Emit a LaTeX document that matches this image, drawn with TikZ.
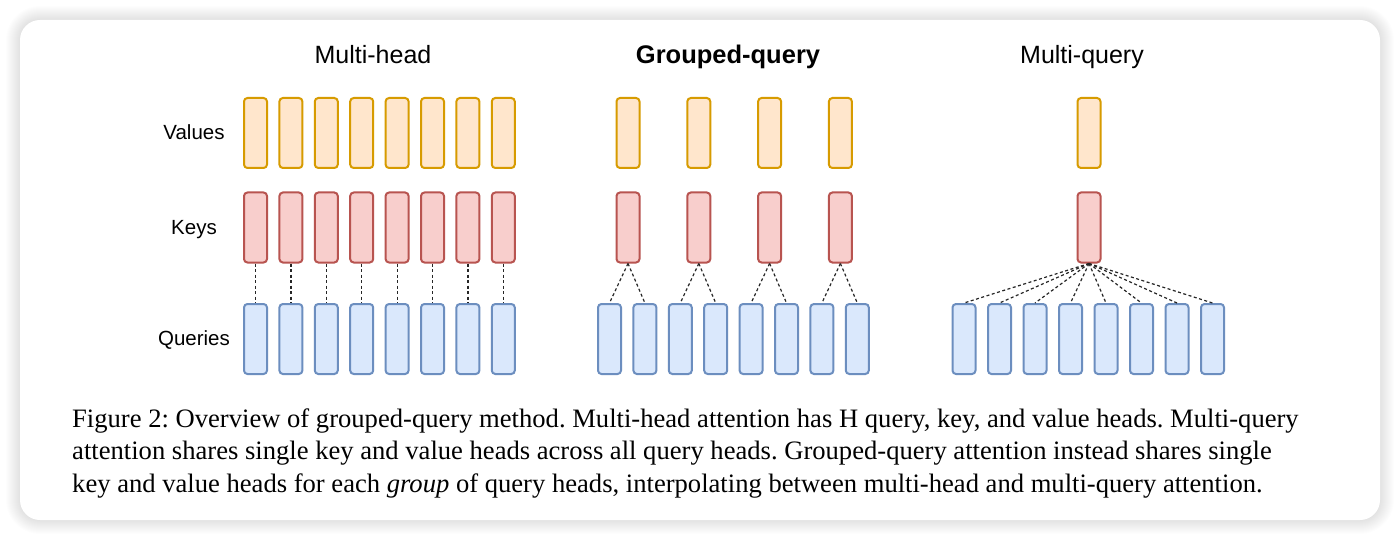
\documentclass[tikz,border=0pt]{standalone}
\usepackage{fontspec}
\setmainfont{Liberation Sans}
\newfontfamily\capfont{Liberation Serif}
\definecolor{valfill}{HTML}{FFE6CC}
\definecolor{valdraw}{HTML}{D79B00}
\definecolor{keyfill}{HTML}{F8CECC}
\definecolor{keydraw}{HTML}{B85450}
\definecolor{qfill}{HTML}{DAE8FC}
\definecolor{qdraw}{HTML}{6C8EBF}
\tikzset{
  headbox/.style={rectangle, rounded corners=3.5pt, minimum width=23pt, minimum height=70pt, inner sep=0pt, line width=2pt},
  valbox/.style={headbox, fill=valfill, draw=valdraw},
  keybox/.style={headbox, fill=keyfill, draw=keydraw},
  qbox/.style={headbox, fill=qfill, draw=qdraw},
  link/.style={draw=black!85, line width=1.2pt, dash pattern=on 3pt off 2.5pt},
  rowlabel/.style={font=\fontsize{20.5}{24}\selectfont, anchor=base, inner sep=0pt},
  title/.style={font=\fontsize{25}{30}\selectfont, anchor=base, inner sep=0pt},
  capline/.style={font=\capfont\fontsize{26.6}{33}\selectfont\frenchspacing, anchor=base west, inner sep=0pt}
}
\begin{document}
\begin{tikzpicture}[x=1pt,y=-1pt]
\useasboundingbox (0,0) rectangle (1400,540);
\fill[white] (0,0) rectangle (1400,540);
% shadow
\foreach \k in {1,...,14}{
  \fill[black, opacity=0.009, rounded corners={20pt+\k pt}] (20-\k,20-\k) rectangle (1380+\k,520+\k);
}
\fill[white, rounded corners=20pt] (20,20) rectangle (1380,520);

% titles
\node[title] (t1) at (373,64) {Multi-head};
\node[title, font=\bfseries\fontsize{25.5}{30}\selectfont] (t2) at (728,64) {Grouped-query};
\node[title] (t3) at (1082,64) {Multi-query};

% row labels
\node[rowlabel] (lv) at (194,139.5) {Values};
\node[rowlabel] (lk) at (194,234.5) {Keys};
\node[rowlabel] (lq) at (194,345.5) {Queries};

% Multi-head
\foreach \i in {0,...,7}{
  \node[valbox] (mhv\i) at (255.5+35.4*\i,133) {};
  \node[keybox] (mhk\i) at (255.5+35.4*\i,227.5) {};
  \node[qbox] (mhq\i) at (255.5+35.4*\i,339) {};
  \draw[link] (mhk\i.south) -- (mhq\i.north);
}

% Grouped-query
\foreach \j in {0,...,3}{
  \node[valbox] (gqv\j) at (628+70.8*\j,133) {};
  \node[keybox] (gqk\j) at (628+70.8*\j,227.5) {};
}
\foreach \i in {0,...,7}{
  \node[qbox] (gqq\i) at (609.5+35.4*\i,339) {};
  \pgfmathtruncatemacro{\g}{int(\i/2)}
  \draw[link] (gqk\g.south) -- (gqq\i.north);
}

% Multi-query
\node[valbox] (mqv) at (1089,133) {};
\node[keybox] (mqk) at (1089,227.5) {};
\foreach \i in {0,...,7}{
  \node[qbox] (mqq\i) at (964+35.5*\i,339) {};
  \draw[link] (mqk.south) -- (mqq\i.north);
}

% caption
\node[capline] (c1) at (72,427) {Figure 2: Overview of grouped-query method. Multi-head attention has H query, key, and value heads. Multi-query};
\node[capline] (c2) at (72,459.5) {attention shares single key and value heads across all query heads. Grouped-query attention instead shares single};
\node[capline] (c3) at (72,492) {key and value heads for each \textit{group} of query heads, interpolating between multi-head and multi-query attention.};
\end{tikzpicture}
\end{document}
